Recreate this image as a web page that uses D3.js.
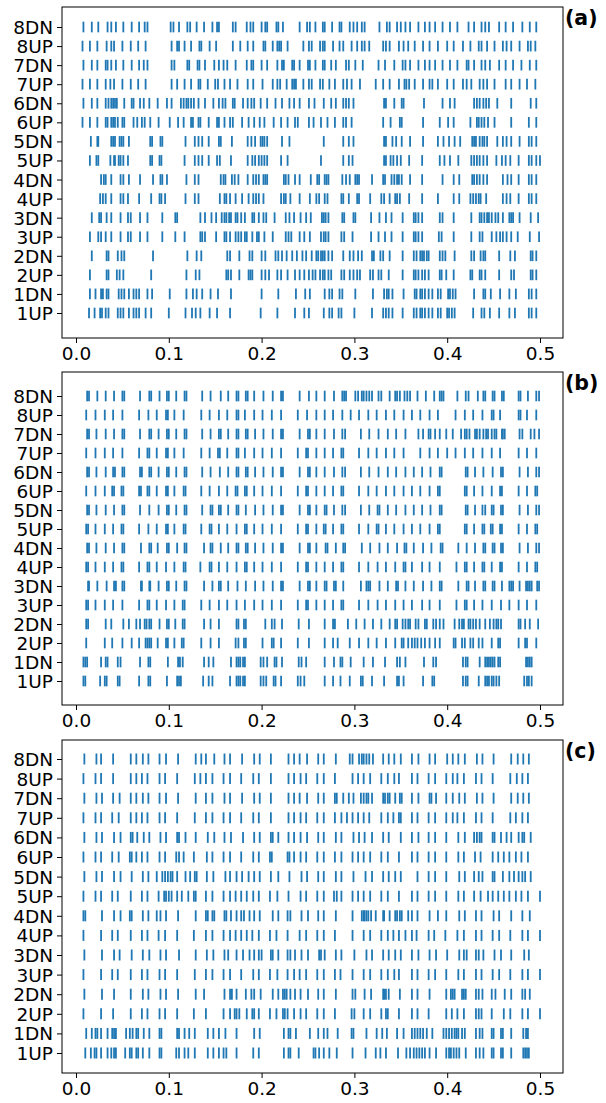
<!DOCTYPE html>
<html>
<head>
<meta charset="utf-8">
<script src="https://cdn.jsdelivr.net/npm/d3@7"></script>
<style>
  body { margin: 0; background: #fff; }
  svg { display: block; }
  .tick text { font-family: "DejaVu Sans", sans-serif; font-size: 18.5px; fill: #000; }
  .plabel { font-family: "DejaVu Sans", sans-serif; font-size: 20.5px; font-weight: bold; }
</style>
</head>
<body>
<svg id="chart" width="606" height="1103"></svg>
<script>
// channel names, bottom row first
const channels = ['1UP', '1DN', '2UP', '2DN', '3UP', '3DN', '4UP', '4DN',
    '5UP', '5DN', '6UP', '6DN', '7UP', '7DN', '8UP', '8DN'];
const xTicks = [0.0, 0.1, 0.2, 0.3, 0.4, 0.5];
const panelLabels = ['(a)', '(b)', '(c)'];

// spike times in ms, one list per channel (same order as channels)
const spikesA = [
    [14, 20, 26, 28, 32, 35, 45, 48, 51, 57, 62, 65, 68, 75, 81, 100, 118, 125, 129, 134, 144, 152, 166, 199, 217, 236, 246, 251, 267, 273, 276, 283, 286, 300, 319, 331, 334, 337, 341, 352, 364, 367, 371, 373, 376, 380, 384, 390, 393, 400, 402, 405, 408, 428, 437, 440, 446, 456, 467, 473, 488, 491, 496],
    [15, 21, 27, 29, 33, 35, 46, 49, 52, 57, 62, 65, 68, 77, 82, 101, 119, 126, 130, 136, 145, 153, 167, 200, 218, 237, 247, 252, 268, 273, 276, 284, 287, 301, 320, 332, 335, 337, 341, 353, 365, 367, 371, 373, 376, 380, 384, 390, 393, 401, 403, 406, 409, 429, 439, 441, 447, 457, 467, 474, 488, 491, 496],
    [15, 33, 35, 44, 47, 51, 81, 119, 129, 133, 162, 164, 167, 176, 186, 188, 190, 200, 204, 208, 217, 221, 228, 236, 241, 246, 251, 255, 258, 263, 266, 268, 272, 275, 286, 289, 295, 299, 303, 306, 317, 320, 326, 329, 337, 352, 364, 366, 369, 373, 376, 380, 392, 394, 399, 407, 425, 427, 435, 437, 441, 456, 469, 472, 490, 492, 496],
    [17, 33, 35, 45, 49, 52, 83, 120, 130, 135, 163, 166, 176, 187, 190, 200, 204, 215, 218, 222, 227, 233, 238, 244, 248, 254, 259, 261, 264, 266, 268, 272, 276, 288, 295, 299, 304, 308, 319, 321, 328, 331, 338, 352, 364, 367, 371, 373, 375, 378, 380, 392, 395, 398, 408, 426, 429, 436, 439, 441, 456, 468, 473, 490, 492, 496],
    [15, 24, 27, 32, 38, 48, 56, 59, 69, 77, 93, 107, 117, 134, 136, 139, 151, 160, 162, 166, 172, 175, 178, 182, 184, 190, 195, 197, 203, 212, 226, 229, 232, 241, 246, 252, 264, 267, 269, 272, 286, 289, 298, 318, 326, 333, 340, 352, 364, 366, 369, 373, 391, 394, 407, 426, 435, 438, 448, 453, 457, 460, 464, 469, 476, 489, 499],
    [17, 25, 27, 33, 38, 48, 56, 59, 69, 77, 93, 107, 109, 134, 139, 146, 151, 157, 160, 162, 165, 167, 172, 174, 178, 182, 190, 192, 197, 202, 205, 214, 226, 230, 235, 242, 248, 253, 265, 267, 269, 272, 287, 289, 299, 301, 318, 327, 334, 340, 352, 364, 366, 369, 373, 392, 395, 407, 426, 435, 437, 440, 443, 445, 448, 452, 455, 460, 467, 469, 471, 478, 490, 498],
    [26, 29, 32, 38, 48, 51, 56, 68, 81, 90, 92, 96, 118, 128, 132, 155, 160, 162, 166, 172, 179, 186, 191, 194, 197, 202, 221, 224, 226, 231, 241, 252, 259, 262, 268, 271, 286, 288, 294, 303, 305, 317, 329, 332, 338, 344, 346, 349, 359, 373, 390, 407, 413, 425, 428, 431, 434, 436, 442, 460, 464, 468, 477, 488, 491, 496],
    [27, 30, 32, 38, 48, 51, 57, 69, 83, 91, 93, 98, 119, 128, 132, 156, 159, 161, 168, 171, 175, 185, 191, 194, 197, 202, 204, 206, 224, 226, 229, 236, 241, 253, 260, 262, 268, 270, 272, 287, 291, 295, 301, 303, 305, 319, 331, 333, 340, 343, 346, 348, 351, 360, 373, 395, 407, 413, 427, 429, 432, 435, 439, 443, 460, 465, 469, 477, 488, 491, 496],
    [15, 22, 24, 37, 41, 42, 46, 48, 51, 56, 80, 82, 90, 92, 117, 128, 132, 136, 143, 152, 155, 167, 185, 190, 193, 197, 200, 203, 206, 221, 228, 264, 288, 294, 298, 332, 334, 339, 342, 346, 350, 359, 373, 392, 397, 403, 412, 426, 429, 432, 435, 439, 443, 453, 459, 463, 468, 477, 488, 491, 496, 500],
    [16, 23, 24, 38, 40, 42, 47, 49, 51, 57, 80, 82, 91, 93, 118, 128, 132, 136, 143, 154, 156, 168, 185, 189, 193, 199, 201, 203, 206, 222, 230, 267, 288, 294, 299, 332, 334, 341, 345, 351, 360, 374, 390, 396, 402, 408, 414, 427, 429, 431, 435, 438, 440, 443, 454, 460, 464, 469, 478, 488, 491, 496],
    [7, 15, 23, 32, 34, 38, 40, 42, 45, 50, 52, 62, 66, 71, 74, 80, 89, 101, 110, 116, 124, 126, 132, 134, 143, 152, 154, 160, 166, 169, 179, 186, 192, 198, 203, 213, 221, 228, 236, 239, 251, 256, 264, 271, 279, 288, 291, 297, 331, 339, 349, 351, 374, 392, 401, 407, 425, 432, 434, 437, 440, 444, 451, 469, 488, 496],
    [8, 17, 23, 32, 35, 38, 40, 42, 44, 52, 60, 62, 69, 73, 79, 88, 98, 103, 113, 116, 119, 121, 124, 127, 132, 139, 148, 154, 158, 161, 169, 171, 180, 185, 189, 192, 199, 206, 215, 222, 230, 235, 241, 251, 257, 267, 275, 280, 288, 291, 294, 299, 332, 334, 343, 351, 353, 375, 395, 403, 408, 429, 432, 435, 439, 442, 445, 454, 469, 490, 496],
    [7, 15, 23, 32, 37, 41, 50, 59, 67, 75, 103, 109, 117, 124, 132, 134, 142, 150, 153, 160, 166, 174, 185, 191, 201, 212, 217, 220, 227, 233, 235, 237, 245, 251, 254, 263, 266, 273, 279, 288, 292, 297, 306, 323, 331, 338, 348, 354, 356, 359, 365, 374, 381, 384, 390, 400, 407, 417, 421, 426, 435, 439, 443, 451, 463, 469, 478, 486, 495],
    [8, 17, 23, 32, 34, 38, 43, 51, 60, 68, 73, 77, 103, 106, 120, 122, 131, 133, 139, 149, 154, 159, 163, 172, 184, 189, 191, 200, 206, 217, 222, 224, 233, 235, 241, 250, 252, 258, 266, 268, 275, 280, 291, 294, 301, 309, 326, 333, 343, 352, 355, 360, 369, 376, 381, 387, 395, 403, 411, 421, 423, 429, 437, 441, 446, 456, 463, 471, 480, 489, 496],
    [7, 15, 23, 33, 38, 41, 50, 59, 67, 75, 103, 109, 111, 117, 124, 133, 135, 144, 151, 169, 177, 185, 191, 202, 204, 212, 217, 219, 221, 228, 245, 251, 254, 263, 266, 268, 277, 284, 288, 297, 303, 308, 311, 316, 331, 334, 338, 348, 353, 358, 365, 374, 381, 390, 400, 407, 417, 425, 434, 437, 443, 451, 460, 464, 469, 478, 487, 490, 495],
    [8, 17, 24, 34, 38, 43, 51, 60, 68, 74, 77, 102, 105, 111, 120, 123, 130, 138, 147, 152, 154, 169, 172, 184, 188, 191, 200, 204, 206, 216, 218, 223, 241, 249, 252, 258, 266, 268, 276, 284, 286, 295, 299, 303, 308, 311, 327, 335, 338, 346, 350, 355, 360, 369, 376, 381, 387, 395, 403, 411, 423, 429, 437, 441, 445, 456, 463, 471, 481, 489, 496]
];

const spikesB = [
    [8, 10, 26, 31, 33, 45, 47, 68, 78, 80, 98, 109, 111, 113, 137, 143, 147, 166, 173, 175, 177, 180, 182, 199, 202, 205, 213, 215, 221, 239, 242, 246, 268, 277, 285, 295, 307, 309, 319, 332, 346, 348, 353, 374, 384, 386, 417, 420, 422, 434, 441, 443, 445, 448, 450, 453, 456, 483, 486, 488, 491],
    [8, 10, 12, 27, 32, 34, 45, 48, 69, 78, 80, 99, 110, 112, 115, 138, 143, 148, 167, 173, 175, 177, 180, 182, 199, 202, 206, 214, 216, 222, 240, 243, 248, 268, 278, 285, 287, 296, 310, 320, 333, 346, 349, 355, 375, 385, 388, 417, 420, 422, 435, 441, 443, 445, 447, 449, 451, 455, 457, 485, 487, 489, 491],
    [11, 31, 39, 50, 60, 68, 75, 77, 79, 81, 88, 97, 99, 106, 114, 116, 135, 145, 154, 172, 175, 181, 183, 201, 211, 213, 221, 239, 251, 268, 277, 282, 295, 305, 315, 324, 334, 344, 351, 353, 358, 362, 365, 368, 372, 376, 381, 387, 392, 407, 409, 416, 419, 425, 428, 434, 438, 448, 455, 457, 477, 484, 486, 496],
    [11, 13, 32, 38, 51, 57, 65, 69, 74, 76, 79, 81, 90, 98, 100, 107, 115, 117, 138, 145, 154, 173, 175, 181, 183, 204, 211, 214, 222, 240, 251, 268, 277, 279, 293, 302, 311, 320, 329, 338, 344, 346, 352, 355, 358, 360, 366, 369, 376, 378, 385, 388, 392, 396, 408, 413, 416, 418, 423, 425, 428, 431, 435, 441, 446, 450, 453, 455, 458, 477, 479, 484, 489, 498],
    [11, 13, 21, 31, 40, 50, 68, 77, 79, 87, 97, 106, 115, 117, 135, 144, 154, 163, 173, 182, 192, 201, 211, 221, 239, 248, 250, 259, 268, 277, 286, 288, 305, 315, 325, 334, 344, 353, 362, 373, 381, 392, 410, 419, 421, 429, 438, 448, 458, 467, 477, 486, 496],
    [13, 14, 23, 33, 41, 43, 50, 52, 70, 71, 79, 80, 89, 98, 100, 108, 117, 119, 138, 147, 154, 156, 164, 174, 183, 193, 202, 212, 221, 223, 241, 250, 252, 259, 268, 270, 278, 280, 288, 307, 313, 315, 317, 327, 336, 345, 347, 355, 364, 374, 383, 392, 394, 412, 421, 423, 430, 439, 441, 449, 451, 459, 467, 469, 471, 478, 485, 487, 489, 491, 497, 499],
    [11, 13, 21, 31, 40, 49, 51, 68, 77, 79, 87, 97, 106, 116, 118, 134, 144, 146, 154, 163, 173, 182, 184, 192, 201, 211, 221, 239, 248, 250, 259, 268, 277, 286, 288, 305, 315, 325, 334, 344, 353, 355, 362, 373, 381, 392, 410, 419, 421, 429, 438, 440, 448, 457, 459, 477, 486, 495, 497],
    [12, 14, 22, 32, 41, 50, 52, 70, 79, 81, 88, 98, 100, 109, 117, 119, 138, 145, 147, 156, 164, 173, 175, 183, 185, 193, 202, 212, 221, 223, 241, 250, 252, 259, 269, 271, 280, 288, 290, 308, 317, 327, 336, 346, 354, 356, 364, 374, 383, 393, 395, 412, 421, 430, 439, 441, 449, 451, 458, 460, 478, 487, 496, 499],
    [11, 13, 21, 31, 40, 49, 51, 68, 78, 87, 97, 99, 106, 116, 118, 135, 144, 146, 154, 163, 173, 182, 184, 192, 201, 211, 221, 239, 248, 250, 259, 267, 269, 277, 286, 288, 305, 315, 324, 326, 334, 343, 353, 362, 371, 381, 390, 392, 419, 421, 429, 438, 440, 447, 449, 457, 459, 477, 486, 495, 497],
    [12, 14, 22, 32, 41, 50, 52, 69, 79, 89, 98, 100, 108, 117, 119, 136, 145, 147, 154, 156, 164, 173, 175, 183, 193, 202, 212, 221, 223, 241, 250, 252, 259, 268, 270, 278, 287, 290, 307, 316, 325, 327, 336, 345, 355, 364, 373, 382, 392, 394, 420, 422, 430, 438, 441, 448, 450, 458, 460, 478, 487, 496, 499],
    [11, 21, 31, 39, 41, 49, 51, 68, 70, 77, 79, 87, 97, 99, 106, 116, 118, 135, 144, 154, 163, 172, 174, 182, 184, 192, 201, 211, 221, 239, 248, 250, 259, 268, 277, 286, 288, 305, 315, 324, 334, 343, 353, 362, 371, 381, 390, 392, 419, 421, 429, 438, 448, 457, 459, 477, 486, 495, 497],
    [12, 14, 22, 32, 40, 42, 50, 52, 69, 71, 79, 81, 89, 98, 100, 108, 117, 119, 136, 145, 155, 164, 173, 175, 183, 185, 193, 202, 212, 221, 223, 241, 250, 252, 259, 268, 278, 287, 290, 307, 316, 326, 336, 345, 355, 364, 373, 382, 392, 394, 420, 422, 430, 439, 449, 458, 460, 478, 487, 496, 499],
    [11, 21, 31, 40, 50, 68, 77, 79, 87, 97, 99, 106, 116, 135, 144, 153, 155, 163, 173, 175, 182, 192, 201, 211, 221, 239, 248, 250, 259, 268, 277, 286, 288, 305, 315, 324, 334, 343, 353, 371, 381, 390, 400, 409, 419, 428, 438, 448, 457, 477, 486, 496],
    [12, 14, 22, 32, 41, 50, 52, 69, 79, 81, 89, 98, 100, 108, 117, 119, 136, 145, 154, 156, 164, 173, 175, 183, 185, 193, 202, 212, 221, 223, 241, 250, 252, 259, 268, 278, 287, 290, 307, 316, 326, 336, 345, 355, 369, 374, 380, 382, 387, 392, 399, 406, 415, 419, 421, 424, 430, 432, 435, 439, 442, 444, 448, 451, 453, 459, 460, 462, 478, 481, 490, 494, 499],
    [11, 21, 31, 40, 50, 68, 78, 87, 97, 99, 106, 116, 135, 144, 154, 163, 173, 175, 182, 192, 201, 211, 221, 239, 249, 259, 268, 277, 287, 296, 305, 315, 324, 334, 343, 353, 362, 371, 381, 390, 409, 419, 428, 438, 448, 450, 457, 477, 479, 486, 496],
    [12, 14, 23, 32, 41, 50, 52, 69, 79, 81, 90, 98, 100, 108, 117, 119, 136, 145, 156, 164, 173, 175, 183, 185, 192, 202, 212, 221, 223, 241, 251, 259, 268, 278, 287, 289, 291, 301, 304, 308, 310, 313, 316, 319, 326, 329, 338, 344, 346, 349, 354, 357, 360, 368, 377, 386, 392, 394, 396, 411, 420, 423, 433, 439, 441, 449, 451, 459, 461, 477, 479, 487, 496, 499]
];

const spikesC = [
    [10, 16, 20, 22, 27, 34, 38, 41, 43, 53, 58, 60, 65, 67, 72, 79, 90, 92, 108, 111, 117, 121, 128, 142, 148, 154, 159, 162, 173, 191, 197, 224, 229, 231, 240, 256, 258, 262, 267, 273, 281, 298, 312, 323, 328, 334, 347, 356, 360, 364, 367, 370, 373, 376, 381, 388, 399, 402, 404, 407, 410, 413, 420, 431, 435, 439, 448, 450, 458, 460, 469, 482, 484, 486, 488],
    [11, 17, 21, 23, 27, 34, 39, 41, 43, 54, 58, 61, 65, 67, 73, 79, 90, 92, 109, 111, 117, 122, 128, 142, 148, 154, 161, 173, 192, 198, 224, 229, 231, 237, 252, 261, 267, 271, 282, 297, 299, 313, 324, 330, 335, 346, 353, 362, 365, 368, 371, 374, 378, 384, 396, 399, 402, 405, 408, 410, 412, 416, 419, 431, 435, 438, 448, 450, 458, 460, 469, 482, 485, 487],
    [8, 27, 40, 59, 71, 77, 90, 96, 109, 127, 140, 159, 166, 171, 173, 176, 184, 190, 192, 197, 209, 216, 223, 225, 228, 235, 242, 248, 260, 267, 279, 297, 300, 310, 317, 329, 334, 336, 348, 362, 368, 380, 399, 405, 411, 418, 431, 434, 437, 448, 461, 468, 481, 487, 500],
    [9, 28, 41, 59, 72, 78, 91, 97, 110, 129, 138, 160, 166, 168, 173, 183, 189, 192, 199, 212, 218, 223, 225, 227, 231, 236, 242, 250, 261, 267, 280, 298, 301, 311, 318, 331, 332, 334, 337, 349, 362, 368, 381, 399, 404, 406, 408, 416, 418, 420, 431, 434, 438, 448, 452, 462, 469, 481, 484, 489],
    [8, 27, 39, 45, 59, 71, 77, 90, 96, 109, 128, 140, 147, 159, 166, 178, 191, 197, 209, 217, 228, 235, 241, 248, 260, 267, 279, 285, 298, 310, 317, 329, 336, 343, 348, 362, 368, 380, 387, 399, 412, 418, 431, 437, 449, 456, 468, 481, 487, 500],
    [9, 28, 41, 47, 60, 72, 79, 91, 97, 111, 129, 141, 148, 160, 164, 173, 180, 187, 192, 197, 200, 210, 212, 218, 228, 231, 236, 243, 250, 262, 264, 268, 280, 286, 300, 313, 319, 331, 337, 344, 350, 362, 369, 381, 388, 400, 413, 418, 421, 431, 434, 439, 451, 458, 469, 483, 488],
    [8, 27, 39, 45, 59, 71, 77, 89, 96, 109, 127, 140, 147, 159, 166, 172, 178, 184, 190, 197, 209, 216, 228, 241, 248, 260, 267, 279, 298, 310, 317, 329, 336, 342, 348, 355, 362, 367, 380, 386, 398, 411, 418, 431, 437, 449, 456, 468, 481, 487, 500],
    [8, 10, 28, 41, 48, 58, 60, 72, 78, 87, 91, 97, 110, 129, 140, 142, 147, 149, 160, 162, 167, 173, 178, 181, 187, 192, 198, 212, 218, 228, 231, 243, 250, 261, 267, 280, 298, 308, 310, 311, 313, 315, 318, 323, 331, 332, 338, 344, 346, 349, 351, 358, 362, 368, 381, 390, 399, 413, 419, 431, 437, 450, 456, 469, 481, 489],
    [8, 21, 27, 39, 45, 59, 71, 77, 89, 95, 97, 100, 103, 109, 114, 121, 127, 129, 140, 147, 159, 166, 172, 178, 184, 191, 197, 209, 217, 229, 242, 248, 260, 267, 278, 281, 286, 298, 304, 310, 317, 329, 336, 348, 362, 368, 380, 387, 399, 412, 418, 429, 436, 444, 449, 455, 461, 467, 474, 480, 487, 500],
    [9, 22, 28, 41, 48, 60, 72, 78, 87, 93, 96, 99, 102, 104, 109, 118, 123, 128, 130, 141, 148, 161, 166, 173, 179, 186, 192, 198, 210, 218, 230, 243, 249, 261, 267, 280, 286, 299, 312, 319, 331, 337, 344, 350, 368, 380, 387, 399, 413, 419, 429, 434, 438, 449, 451, 460, 467, 472, 477, 481, 484, 490],
    [8, 21, 27, 39, 46, 58, 60, 65, 71, 77, 90, 96, 108, 111, 116, 127, 141, 147, 159, 166, 178, 191, 197, 209, 211, 228, 230, 235, 242, 248, 260, 267, 279, 286, 298, 304, 310, 317, 329, 336, 348, 362, 368, 380, 387, 399, 412, 418, 430, 436, 449, 455, 461, 467, 474, 480, 487],
    [9, 22, 28, 41, 48, 59, 61, 66, 73, 79, 91, 97, 109, 111, 118, 129, 142, 149, 160, 167, 180, 192, 198, 210, 212, 218, 229, 235, 242, 249, 261, 267, 280, 286, 299, 305, 311, 319, 331, 337, 350, 362, 369, 380, 387, 399, 412, 419, 429, 432, 435, 437, 449, 451, 458, 464, 469, 477, 481, 483, 490],
    [8, 21, 27, 39, 46, 59, 65, 71, 77, 90, 96, 109, 128, 140, 147, 159, 166, 178, 191, 197, 210, 229, 235, 242, 248, 260, 267, 279, 286, 292, 298, 304, 310, 316, 329, 336, 342, 348, 350, 362, 368, 380, 387, 399, 406, 411, 418, 431, 437, 449, 468, 474, 481, 487],
    [9, 22, 28, 40, 47, 59, 65, 72, 78, 90, 97, 110, 129, 140, 147, 160, 166, 179, 192, 198, 210, 229, 235, 241, 249, 261, 267, 279, 281, 288, 294, 299, 307, 310, 313, 315, 319, 331, 333, 336, 338, 344, 349, 351, 362, 369, 381, 383, 388, 399, 406, 413, 419, 432, 438, 450, 469, 476, 482, 488],
    [8, 21, 27, 40, 59, 65, 71, 77, 90, 96, 109, 128, 134, 140, 147, 159, 166, 178, 191, 197, 210, 229, 235, 242, 248, 260, 267, 279, 298, 304, 310, 317, 329, 336, 343, 348, 362, 368, 380, 387, 399, 406, 411, 418, 431, 437, 449, 468, 475, 481, 487],
    [9, 22, 27, 40, 59, 65, 72, 78, 90, 97, 110, 129, 135, 140, 149, 160, 166, 179, 192, 198, 210, 229, 235, 241, 249, 261, 267, 280, 295, 298, 305, 308, 310, 313, 316, 320, 331, 337, 343, 350, 362, 369, 381, 387, 400, 406, 412, 419, 432, 438, 450, 469, 476, 482, 488]
];

const panels = [
    {label: panelLabels[0], spikes: spikesA, top: 7, bottom: 338, yTop: 27, yBot: 313},
    {label: panelLabels[1], spikes: spikesB, top: 372, bottom: 705, yTop: 396, yBot: 681},
    {label: panelLabels[2], spikes: spikesC, top: 740, bottom: 1073, yTop: 759, yBot: 1053}
];

const left = 62;
const right = 563;
const color = '#1f77b4';

const svg = d3.select('#chart');

const x = d3.scaleLinear()
    .domain([-0.0151, 0.5248])
    .range([left, right]);

panels.forEach((p) => {
    const step = (p.yBot - p.yTop) / 15;
    const y = d3.scaleLinear()
        .domain([-(p.bottom - p.yBot) / step, 15 + (p.yTop - p.top) / step])
        .range([p.bottom, p.top]);

    const g = svg.append('g');

    // one group per channel
    const rows = g.selectAll('.row')
        .data(p.spikes)
        .enter()
        .append('g')
        .attr('class', 'row');

    rows.each(function (times, i) {
        d3.select(this)
            .selectAll('line')
            .data(times)
            .enter()
            .append('line')
            .attr('x1', (t) => x(t / 1000))
            .attr('x2', (t) => x(t / 1000))
            .attr('y1', y(i - 0.28))
            .attr('y2', y(i + 0.28))
            .attr('stroke', color)
            .attr('stroke-width', 1.8);
    });

    // axes
    g.append('g')
        .attr('transform', `translate(0,${p.bottom})`)
        .call(d3.axisBottom(x).tickValues(xTicks).tickFormat(d3.format('.1f'))
            .tickSize(5).tickPadding(4))
        .call((a) => a.select('.domain').remove());

    g.append('g')
        .attr('transform', `translate(${left},0)`)
        .call(d3.axisLeft(y).tickValues(d3.range(16)).tickFormat((i) => channels[i])
            .tickSize(5).tickPadding(4))
        .call((a) => a.select('.domain').remove())
        .selectAll('.tick text')
        .attr('dy', '0.35em');

    g.append('rect')
        .attr('x', left)
        .attr('y', p.top)
        .attr('width', right - left)
        .attr('height', p.bottom - p.top)
        .attr('fill', 'none')
        .attr('stroke', '#000')
        .attr('stroke-width', 1);

    g.append('text')
        .attr('class', 'plabel')
        .attr('x', 565)
        .attr('y', p.top + 18)
        .text(p.label);
});
</script>
</body>
</html>
